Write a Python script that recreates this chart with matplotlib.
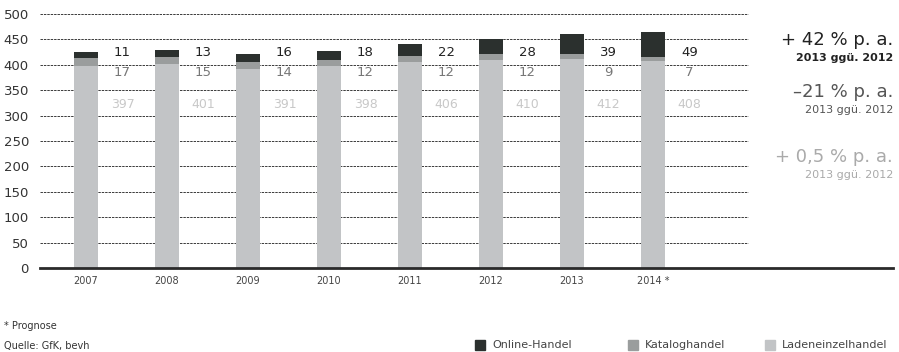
import matplotlib.pyplot as plt
import numpy as np

years = ['2007', '2008', '2009', '2010', '2011', '2012', '2013', '2014 *']
online = [11, 13, 16, 18, 22, 28, 39, 49]
katalog = [17, 15, 14, 12, 12, 12, 9, 7]
laden = [397, 401, 391, 398, 406, 410, 412, 408]

growth = ['+ 42 % p. a.', '\u201321 % p. a.', '+ 0,5 % p. a.']
growth_sub = '2013 ggü. 2012'

c_online = '#2b302e'
c_katalog = '#9a9d9d'
c_laden = '#c2c4c6'

plt.rcParams['font.family'] = ['DejaVu Sans']

fig = plt.figure(figsize=(8.99, 3.52), dpi=100)
ax = fig.add_axes([40 / 899, 84 / 352, 853 / 899, 254 / 352])

x = np.arange(len(years))
w = 0.30
ax.bar(x, laden, w, color=c_laden, zorder=2)
ax.bar(x, katalog, w, bottom=laden, color=c_katalog, zorder=2)
bottom2 = np.array(laden) + np.array(katalog)
ax.bar(x, online, w, bottom=bottom2, color=c_online, zorder=2)

ax.set_xlim(-0.568, 9.963)
ax.set_ylim(0, 500)

# dashed grid only across the bar area
for yv in range(50, 501, 50):
    ax.plot([-0.568, 8.17], [yv, yv], color='#3a3a3a', lw=0.7,
            ls=(0, (2.5, 1)), zorder=1, clip_on=False)
ax.plot([-0.568, 9.963], [0, 0], color='#2a2a2a', lw=2.0, zorder=3, clip_on=False)

for s in ax.spines.values():
    s.set_visible(False)
ax.set_yticks(range(0, 501, 50))
ax.tick_params(axis='y', length=0, pad=8, labelsize=9.5, labelcolor='#333333')
ax.set_xticks(x)
ax.set_xticklabels(years)
ax.tick_params(axis='x', length=0, pad=6, labelsize=7, labelcolor='#444444')

# value labels in three fixed rows to the right of each bar
for i in x:
    ax.text(i + 0.45, 425, str(online[i]), ha='center', va='center',
            fontsize=9.5, color='#222222')
    ax.text(i + 0.45, 385, str(katalog[i]), ha='center', va='center',
            fontsize=9.5, color='#777777')
    ax.text(i + 0.45, 322, str(laden[i]), ha='center', va='center',
            fontsize=9, color='#c8c8c8')

# growth rates on the right
cols = ['#222222', '#555555', '#aaaaaa']
ys = [40, 92, 157]
for txt, col, yp in zip(growth, cols, ys):
    fig.text(893 / 899, 1 - yp / 352, txt, ha='right', va='center',
             fontsize=13, color=col)
    fig.text(893 / 899, 1 - (yp + 18) / 352, growth_sub, ha='right', va='center',
             fontsize=8, color=col, fontweight='bold' if col == '#222222' else 'normal')

# footnotes
fig.text(4 / 899, 1 - 326 / 352, '* Prognose', fontsize=7, color='#333333', va='center')
fig.text(4 / 899, 1 - 346 / 352, 'Quelle: GfK, bevh', fontsize=7, color='#333333', va='center')

# legend
legend_items = [('Online-Handel', c_online, 475), ('Kataloghandel', c_katalog, 628),
                ('Ladeneinzelhandel', c_laden, 765)]
for label, col, px in legend_items:
    fig.patches.append(plt.Rectangle((px / 899, 1 - 350 / 352), 10 / 899, 10 / 352,
                                     transform=fig.transFigure, color=col, figure=fig))
    fig.text((px + 17) / 899, 1 - 345 / 352, label, fontsize=8, color='#444444', va='center')

fig.savefig('out.png', dpi=100)
